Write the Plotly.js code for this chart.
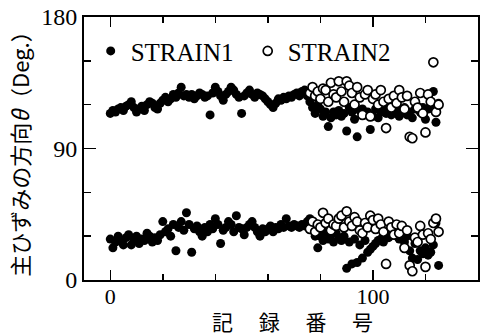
<!DOCTYPE html>
<html>
<head>
<meta charset="utf-8">
<script src="https://cdn.plot.ly/plotly-3.0.1.min.js"></script>
<style>html,body{margin:0;padding:0;background:#fff;}#chart{width:480px;height:336px;}</style>
</head>
<body>
<div id="chart"></div>
<script>
// STRAIN1: record numbers 0..125
var strain1Start = 0;
var strain1Upper = [
  114,116,115,117,118,116,119,120,122,118,
  115,117,119,116,120,122,121,118,117,121,
  123,125,122,124,127,125,128,132,126,127,
  125,127,124,126,128,127,125,126,113,128,
  132,129,126,123,127,129,132,130,127,125,
  114,126,128,130,127,125,128,127,126,124,
  122,120,118,121,124,123,125,124,126,125,
  127,128,126,129,130,126,122,118,114,120,
  117,112,115,105,111,115,113,116,112,114,
  102,118,115,110,98,116,117,113,115,103,
  112,117,111,115,118,114,116,113,117,114,
  112,116,118,113,115,111,117,119,115,118,
  110,117,120,129,108,121
];
var strain1Lower = [
  28,22,26,30,27,24,29,31,24,27,
  30,25,28,27,32,30,26,29,27,31,
  40,33,35,30,38,20,36,40,34,46,
  38,19,35,37,33,30,36,33,38,35,
  42,38,25,34,36,40,38,33,44,36,
  35,31,36,38,40,36,33,30,35,33,
  35,37,33,36,35,38,36,42,37,36,
  38,37,36,38,37,40,42,35,30,22,
  30,27,33,28,31,26,32,29,27,30,
  8,26,11,28,12,24,15,27,19,21,
  23,25,27,28,26,31,29,35,33,30,
  28,32,26,30,20,15,25,14,20,18,
  22,17,19,24,39,10
];
// STRAIN2: record numbers 76..125
var strain2Start = 76;
var strain2Upper = [
  128,132,126,129,124,131,130,122,135,127,
  125,136,129,122,136,133,128,120,132,125,
  113,127,130,112,124,127,120,130,122,104,
  124,118,126,121,130,125,117,126,98,97,
  122,118,128,114,101,127,122,149,115,120
];
var strain2Lower = [
  35,40,33,38,36,46,39,42,34,38,
  37,42,44,36,47,40,37,43,40,34,
  32,39,36,44,41,35,42,38,33,11,
  40,36,31,38,32,37,22,34,10,6,
  29,26,37,31,9,32,28,39,42,33
];
var xTickVals = [0, 100];
var xTickText = ['0', '100'];
var yTickVals = [0, 90, 180];
var yTickText = ['0', '90', '180'];
var seriesNames = ['STRAIN1', 'STRAIN2'];
var xTitle = '記 　録 　番 　号';
var yTitle = '主ひずみの方向<i>θ</i>（Deg.）';

function recs(start, n){ var a=[]; for(var i=0;i<n;i++) a.push(start+i); return a; }
var r1 = recs(strain1Start, strain1Upper.length);
var r2 = recs(strain2Start, strain2Upper.length);

var serif = 'Liberation Serif, Times New Roman, Noto Sans CJK JP, serif';
var cjk = 'Noto Sans CJK JP, sans-serif';
var traces = [
  {
    x: r1.concat(r1), y: strain1Upper.concat(strain1Lower),
    type: 'scatter', mode: 'markers', name: seriesNames[0],
    marker: {symbol: 'circle', size: 9, color: '#000', line: {width: 0}},
    cliponaxis: false
  },
  {
    x: r2.concat(r2), y: strain2Upper.concat(strain2Lower),
    type: 'scatter', mode: 'markers', name: seriesNames[1],
    marker: {symbol: 'circle', size: 9, color: '#fff', line: {width: 1.7, color: '#000'}},
    cliponaxis: false
  }
];

var layout = {
  width: 480, height: 336,
  margin: {l: 84, r: 2, t: 17, b: 56},
  paper_bgcolor: '#fff', plot_bgcolor: '#fff',
  font: {family: serif, color: '#000', size: 22},
  showlegend: true,
  legend: {
    orientation: 'h', x: 0.017, xanchor: 'left', y: 0.87, yanchor: 'middle',
    bgcolor: 'rgba(0,0,0,0)', font: {family: serif, size: 25, color: '#000'},
    itemclick: false, entrywidth: 112, entrywidthmode: 'pixels'
  },
  xaxis: {
    range: [-10, 140], showgrid: false, zeroline: false,
    showline: true, linecolor: '#000', linewidth: 2, mirror: 'allticks',
    ticks: 'inside', ticklen: 10, tickwidth: 1.5, tickcolor: '#000',
    tickvals: xTickVals, ticktext: xTickText, ticklabelstandoff: -4,
    tickfont: {family: serif, size: 22, color: '#000'},
    minor: {dtick: 20, tick0: 0, ticks: 'inside', ticklen: 6, tickwidth: 1.5, tickcolor: '#000', showgrid: false}
  },
  yaxis: {
    range: [0, 180], showgrid: false, zeroline: false,
    showline: true, linecolor: '#000', linewidth: 2, mirror: 'allticks',
    ticks: 'inside', ticklen: 12, tickwidth: 1.5, tickcolor: '#000',
    tickvals: yTickVals, ticktext: yTickText,
    tickfont: {family: serif, size: 24, color: '#000'},
    minor: {dtick: 30, tick0: 0, ticks: 'inside', ticklen: 7, tickwidth: 1.5, tickcolor: '#000', showgrid: false},
    title: {text: yTitle, font: {family: cjk, size: 22, color: '#000'}, standoff: 6}
  },
  annotations: [
    {text: xTitle, xref: 'paper', yref: 'paper', x: 0.528, y: 0, yshift: -41, xanchor: 'center', yanchor: 'middle',
     showarrow: false, borderpad: 0, font: {family: cjk, size: 21, color: '#000'}}
  ]
};
Plotly.newPlot('chart', traces, layout, {staticPlot: true, displayModeBar: false});
</script>
</body>
</html>
